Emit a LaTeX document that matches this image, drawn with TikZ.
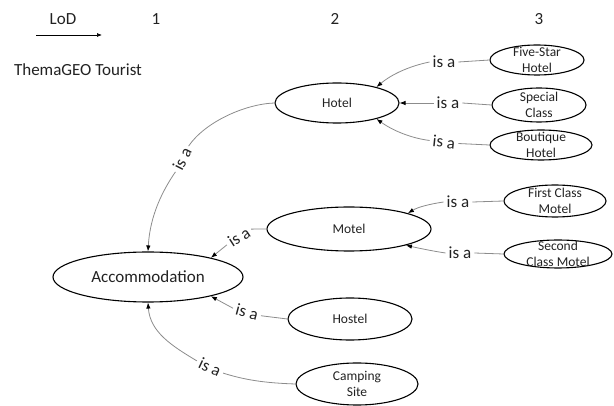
\documentclass[tikz,border=0pt]{standalone}
\usepackage{fontspec}
\setmainfont{Carlito}
\usetikzlibrary{shapes.geometric,arrows.meta}
\definecolor{txt}{HTML}{222222}
\definecolor{lgray}{HTML}{8C8C8C}
\begin{document}
\begin{tikzpicture}[x=1pt,y=-1pt,
  ell/.style={draw=black,line width=1.1pt,ellipse,inner sep=0pt},
  eltext/.style={font=\fontsize{13.5}{16.5}\selectfont,align=center,text=txt,inner sep=0pt},
  bigtext/.style={font=\fontsize{17}{20}\selectfont,text=txt,inner sep=0pt},
  isa/.style={font=\fontsize{17}{20}\selectfont,text=txt,inner sep=3pt},
  conn/.style={draw=lgray,line width=0.8pt},
  arr/.style={-{Latex[length=6pt,width=4.5pt,color=black]}}]
\useasboundingbox (0,0) rectangle (614,406);

% header
\node[bigtext] (lod) at (63,19) {LoD};
\coordinate (lodA) at (36,35);
\coordinate (lodB) at (102,35);
\draw[line width=0.7pt,-{Latex[length=5pt,width=4pt]}] (lodA) -- (lodB);
\node[bigtext] (n1) at (156,19) {1};
\node[bigtext] (n2) at (335,19) {2};
\node[bigtext] (n3) at (539,19) {3};
\node[bigtext] (theme) at (78,70) {ThemaGEO Tourist};

% ellipses
\node[ell,minimum width=190pt,minimum height=50pt] (acc) at (148,277) {};
\node[bigtext] at (acc) {Accommodation};
\node[ell,minimum width=124pt,minimum height=40pt] (hotel) at (337,103) {};
\node[eltext] at (hotel) {Hotel};
\node[ell,minimum width=164pt,minimum height=44pt] (motel) at (349,229) {};
\node[eltext] at (motel) {Motel};
\node[ell,minimum width=124pt,minimum height=42pt] (hostel) at (350,319) {};
\node[eltext] at (hostel) {Hostel};
\node[ell,minimum width=122pt,minimum height=42pt] (camp) at (357,384) {};
\node[eltext] at (camp) {Camping\\Site};

\node[ell,minimum width=94pt,minimum height=30pt] (five) at (537,60) {};
\node[eltext] at (five) {Five-Star\\Hotel};
\node[ell,minimum width=94pt,minimum height=34pt] (special) at (539,105) {};
\node[eltext] at (special) {Special\\Class};
\node[ell,minimum width=102pt,minimum height=30pt] (bout) at (541,145) {};
\node[eltext] at (bout) {Boutique\\Hotel};
\node[ell,minimum width=102pt,minimum height=32pt] (first) at (555,201) {};
\node[eltext] at (first) {First Class\\Motel};
\node[ell,minimum width=108pt,minimum height=28pt] (second) at (558,254) {};
\node[eltext] at (second) {Second\\Class Motel};

% labels
\node[isa] (l1) at (444,62) {is a};
\node[isa] (l2) at (448,103) {is a};
\node[isa,rotate=-6] (l3) at (444,142) {is a};
\node[isa] (l4) at (458,202) {is a};
\node[isa] (l5) at (460,253) {is a};
\node[isa,rotate=33] (l6) at (239,237) {is a};
\node[isa,rotate=63] (l7) at (182,159) {is a};
\node[isa,rotate=-15] (l8) at (247,312) {is a};
\node[isa,rotate=-25] (l9) at (210,367) {is a};

% connectors level 3 -> 2
\draw[conn] (five.west) -- (l1.east);
\draw[conn,arr] (l1.west) .. controls (410,66) and (392,74) .. (hotel.22);
\draw[conn] (special.west) -- (l2.east);
\draw[conn,arr] (l2.west) -- (hotel.east);
\draw[conn] (bout.west) -- (l3.east);
\draw[conn,arr] (l3.west) .. controls (410,138) and (392,130) .. (hotel.-22);
\draw[conn] (first.west) -- (l4.east);
\draw[conn,arr] (l4.west) .. controls (430,204) and (418,207) .. (motel.15);
\draw[conn] (second.west) -- (l5.east);
\draw[conn,arr] (l5.west) .. controls (432,251) and (418,248) .. (motel.-16);

% connectors level 2 -> 1
\draw[conn] (motel.west) -- (l6.east);
\draw[conn,arr] (l6.west) -- (acc.17);
\draw[conn] (hotel.west) .. controls (245,104) and (205,122) .. (l7.east);
\draw[conn,arr] (l7.west) .. controls (163,190) and (150,215) .. (acc.north);
\draw[conn] (hostel.west) -- (l8.east);
\draw[conn,arr] (l8.west) -- (acc.-17);
\draw[conn] (camp.west) .. controls (265,383) and (245,380) .. (l9.east);
\draw[conn,arr] (l9.west) .. controls (172,346) and (150,332) .. (acc.south);
\end{tikzpicture}
\end{document}
